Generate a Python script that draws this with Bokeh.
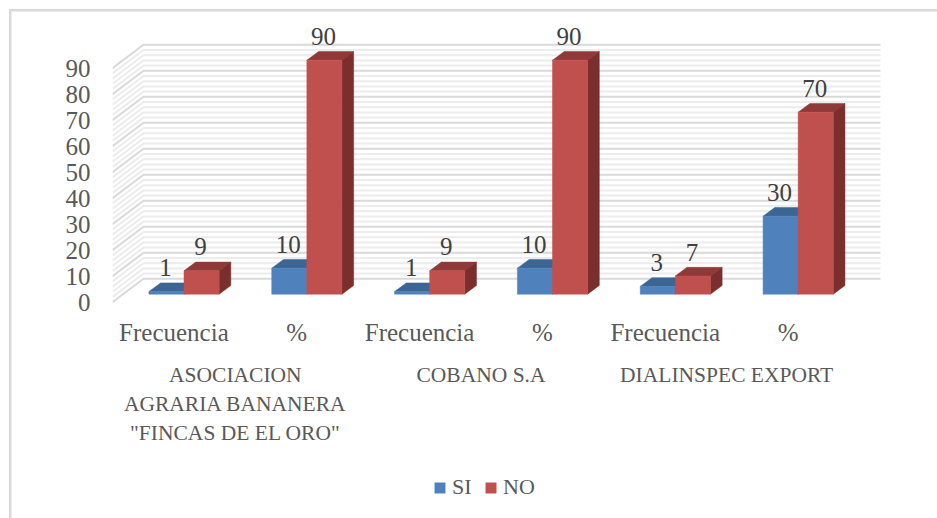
from bokeh.plotting import figure
from bokeh.models import Range1d, LinearAxis, FixedTicker, Legend, LegendItem
from bokeh.core.properties import value
from bokeh.embed import file_html
from bokeh.resources import INLINE

# ---------- data ----------
tick_labels = ["Frecuencia", "%", "Frecuencia", "%", "Frecuencia", "%"]
group_labels = ['ASOCIACION\nAGRARIA BANANERA\n"FINCAS DE EL ORO"', "COBANO S.A", "DIALINSPEC EXPORT"]
si_values = [1, 10, 1, 10, 3, 30]
no_values = [9, 90, 9, 90, 7, 70]
y_ticks = [0, 10, 20, 30, 40, 50, 60, 70, 80, 90]

# ---------- style / geometry ----------
FONT = "Liberation Serif"
SIZE = "25px"
TXT = "#595959"
CAT_PX = 122.83
VAL_PX = 2.6
W, H = 937, 518
FRAME_L, ZERO_FROM_TOP = 112, 301.7
WALL_DX, WALL_DY = 31 / CAT_PX, 23.4 / VAL_PX
BAR_W = 35.1 / CAT_PX
BAR_OX, BAR_OY = 10.1 / CAT_PX, 8 / VAL_PX
DEP_X, DEP_Y = 11.7 / CAT_PX, 8.7 / VAL_PX

n = len(tick_labels)
p = figure(width=W, height=H, output_backend="svg", toolbar_location=None,
           x_axis_type=None, y_axis_type=None,
           x_range=Range1d(-0.5, -0.5 + (W - FRAME_L) / CAT_PX),
           y_range=Range1d(-(H - ZERO_FROM_TOP) / VAL_PX, ZERO_FROM_TOP / VAL_PX),
           min_border_left=FRAME_L, min_border_right=0, min_border_top=0, min_border_bottom=0,
           outline_line_color=None, background_fill_color=None, border_fill_color=None)
p.grid.visible = False

# chart-area border: only its top and left edges fall inside the page
p.styles = {
    "background-color": "white",
    "background-image": "linear-gradient(#d9d9d9,#d9d9d9),linear-gradient(#d9d9d9,#d9d9d9)",
    "background-size": "2.5px 100%,100% 2.5px",
    "background-position": "9px 9px,9px 9px",
    "background-repeat": "no-repeat",
}

# walls: minor then major lines
x0 = -0.5
x_back = x0 + WALL_DX
x_end = n - 0.5 + WALL_DX
minor = [v for v in range(0, 91, 2) if v % 10]
for vals, col, lw in ((minor, "#ececec", 2.0), (y_ticks, "#d9d9d9", 2.0)):
    p.multi_line(xs=[[x0, x_back, x_end] for _ in vals],
                 ys=[[v, v + WALL_DY, v + WALL_DY] for v in vals],
                 line_color=col, line_width=lw)

def bars(values, offs, front, top, side):
    lefts = [i + BAR_OX + offs for i in range(n)]
    rights = [l + BAR_W for l in lefts]
    tops = [v + BAR_OY for v in values]
    p.patches(xs=[[l, r, r + DEP_X, l + DEP_X] for l, r in zip(lefts, rights)],
              ys=[[t, t, t + DEP_Y, t + DEP_Y] for t in tops],
              fill_color=top, line_color=top, line_width=0.5)
    p.patches(xs=[[r, r + DEP_X, r + DEP_X, r] for r in rights],
              ys=[[BAR_OY, BAR_OY + DEP_Y, t + DEP_Y, t] for t in tops],
              fill_color=side, line_color=side, line_width=0.5)
    return p.vbar(x=[(l + r) / 2 for l, r in zip(lefts, rights)], width=BAR_W,
                  bottom=BAR_OY, top=tops, fill_color=front, line_color=front, line_width=0.5)

r_si = bars(si_values, -BAR_W, "#4f81bd", "#3b6593", "#35597f")
r_no = bars(no_values, 0, "#c0504d", "#8f3a38", "#7b2f2d")

# data labels
for values, offs in ((si_values, -BAR_W / 2), (no_values, BAR_W / 2)):
    p.text(x=[i + BAR_OX + offs for i in range(n)], y=[v + BAR_OY for v in values],
           text=[str(v) for v in values], text_align="center", text_baseline="middle",
           x_offset=-1, y_offset=-24, text_font=value(FONT), text_font_size=SIZE, text_color="#404040")

# axes
yax = LinearAxis(ticker=FixedTicker(ticks=y_ticks), axis_line_color=None,
                 major_tick_line_color=None, minor_tick_line_color=None,
                 major_label_standoff=16, major_label_text_font=FONT,
                 major_label_text_font_size=SIZE, major_label_text_color=TXT)
p.add_layout(yax, "left")

xax = LinearAxis(ticker=FixedTicker(ticks=list(range(n))), axis_line_color=None,
                 major_tick_line_color=None, minor_tick_line_color=None, fixed_location=0,
                 major_label_overrides=dict(enumerate(tick_labels)),
                 major_label_standoff=11, major_label_text_font=FONT,
                 major_label_text_font_size=SIZE, major_label_text_color=TXT)
p.add_layout(xax, "below")

gax = LinearAxis(ticker=FixedTicker(ticks=[0.5, 2.5, 4.5]), axis_line_color=None,
                 major_tick_line_color=None, minor_tick_line_color=None, fixed_location=0,
                 major_label_overrides=dict(zip([0.5, 2.5, 4.5], group_labels)),
                 major_label_standoff=55, major_label_text_font=FONT,
                 major_label_text_font_size="21.5px", major_label_text_color=TXT,
                 major_label_text_baseline="top")
p.add_layout(gax, "below")

legend = Legend(items=[LegendItem(label="SI", renderers=[r_si]), LegendItem(label="NO", renderers=[r_no])],
                orientation="horizontal", location=(321, 18), background_fill_alpha=0,
                border_line_color=None, padding=0, margin=0, glyph_width=13, glyph_height=13,
                label_text_font=FONT, label_text_font_size="22px", label_text_color=TXT,
                label_standoff=6, spacing=12)
p.add_layout(legend)

open("out.html", "w").write(file_html(p, INLINE))
